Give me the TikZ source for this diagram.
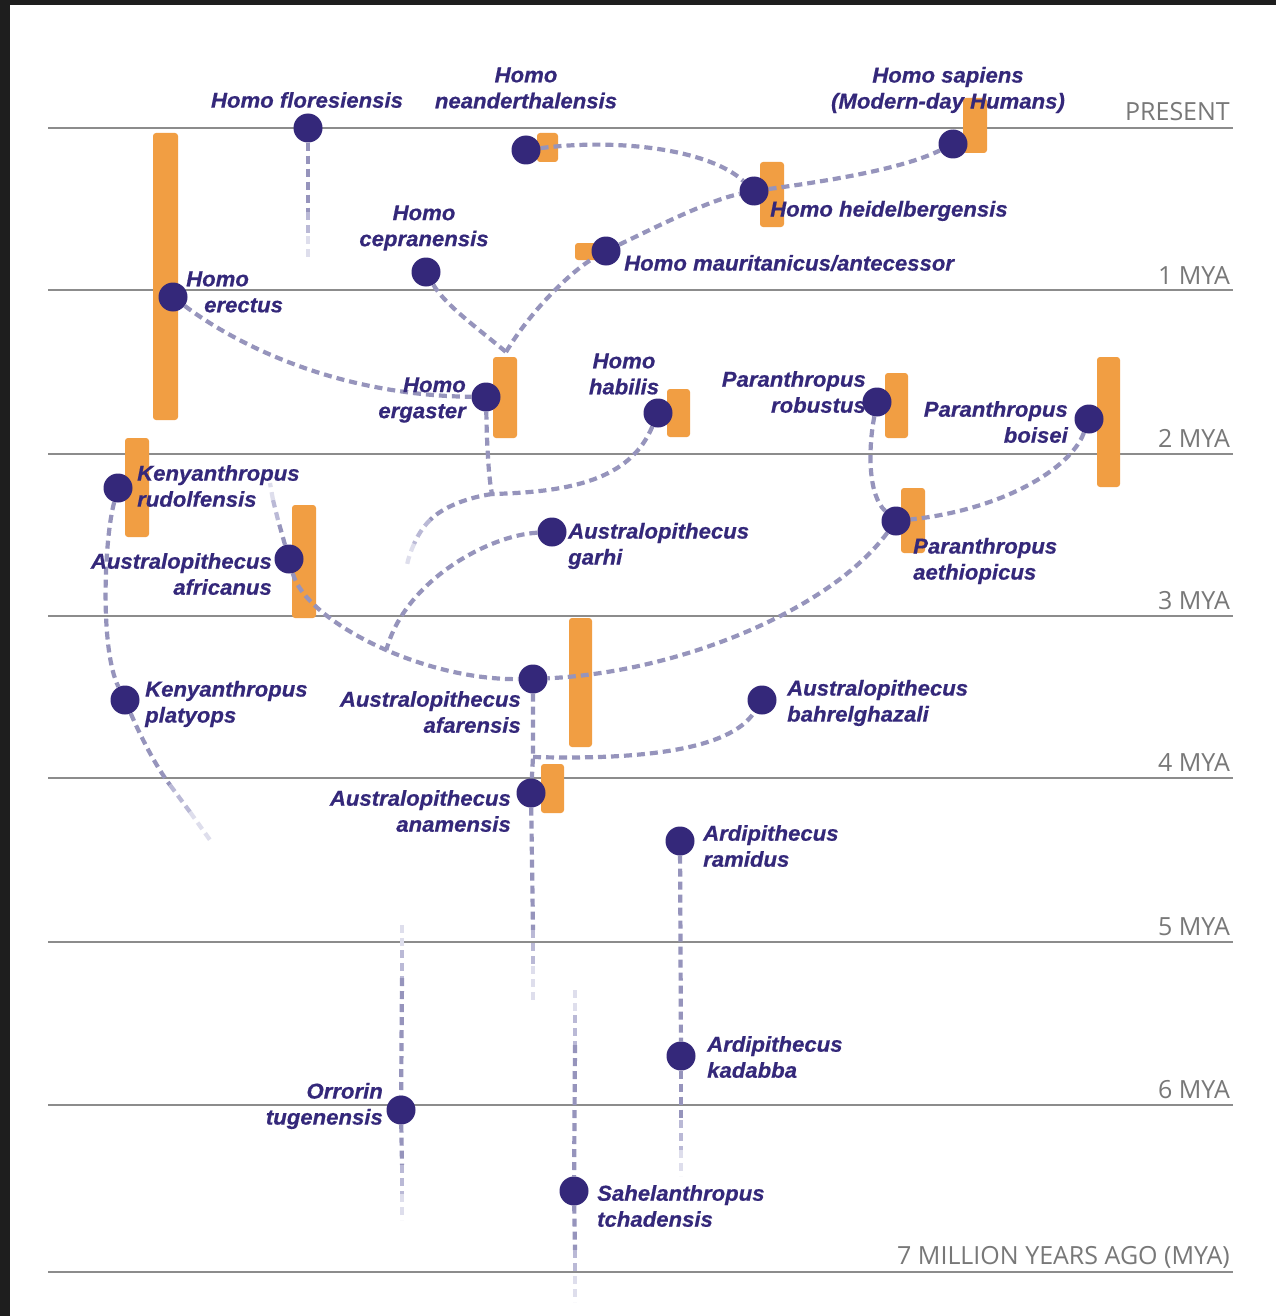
\documentclass[tikz,border=0pt]{standalone}
\usepackage{fontspec}
\setmainfont{Liberation Sans}
\newfontfamily\spfont{Liberation Sans}[FakeStretch=1.03,FakeBold=0.6]
\newfontfamily\axfont{Open Sans}
\definecolor{ink}{RGB}{52,40,122}
\definecolor{ochre}{RGB}{241,158,67}
\definecolor{lineclr}{RGB}{150,148,188}
\definecolor{fadeA}{RGB}{186,185,214}
\definecolor{fadeB}{RGB}{222,222,236}
\definecolor{rulegray}{RGB}{140,140,140}
\definecolor{axtext}{RGB}{120,120,120}
\definecolor{framegray}{RGB}{30,30,30}
\pgfdeclarelayer{back}\pgfdeclarelayer{bars}\pgfdeclarelayer{links}
\pgfsetlayers{back,bars,links,main}
\begin{document}
\begin{tikzpicture}[x=1pt,y=-1pt,
  dot/.style={circle,fill=ink,minimum size=29pt,inner sep=0pt},
  sp/.style={text=ink,inner sep=0pt,font=\spfont\bfseries\itshape\fontsize{21.5}{26}\selectfont},
  ax/.style={text=axtext,inner sep=0pt,anchor=base east,font=\axfont\fontsize{25}{30}\selectfont},
  rule/.style={draw=rulegray,line width=1.4pt},
  bar/.style={fill=ochre,rounded corners=3pt},
  link/.style={draw=lineclr,line width=4.2pt,dash pattern=on 8pt off 5pt},
  linkA/.style={link,draw=fadeA},
  linkB/.style={link,draw=fadeB}]
\path[use as bounding box] (0,0) rectangle (1276,1316);

% species dots
\node[dot] (flo) at (308,128) {};
\node[dot] (nea) at (526,150) {};
\node[dot] (sap) at (953,144) {};
\node[dot] (hei) at (754,191) {};
\node[dot] (mau) at (606,251) {};
\node[dot] (cep) at (426,272) {};
\node[dot] (ere) at (173,297) {};
\node[dot] (erg) at (486,397) {};
\node[dot] (hab) at (658,413) {};
\node[dot] (rob) at (877,402) {};
\node[dot] (boi) at (1089,419) {};
\node[dot] (aet) at (896,521) {};
\node[dot] (rud) at (118,488) {};
\node[dot] (afr) at (289,559) {};
\node[dot] (gar) at (552,532) {};
\node[dot] (afa) at (533,679) {};
\node[dot] (bah) at (762,700) {};
\node[dot] (ana) at (531,793) {};
\node[dot] (ram) at (680,841) {};
\node[dot] (kad) at (681,1056) {};
\node[dot] (orr) at (401,1110) {};
\node[dot] (sah) at (574,1191) {};
\node[dot] (pla) at (125,700) {};

% page, frame and time scale
\begin{pgfonlayer}{back}
\fill[white] (0,0) rectangle (1276,1316);
\fill[framegray] (0,0) rectangle (10,1316);
\fill[framegray] (0,0) rectangle (1276,5);
\foreach \y in {128,290,454,616,778,942,1105,1272}
  \draw[rule] (48,\y) -- (1233,\y);
\end{pgfonlayer}

% fossil-range bars
\begin{pgfonlayer}{bars}
\fill[bar] (153,133) rectangle (178,420);
\fill[bar] (537,133) rectangle (558,162);
\fill[bar] (963,98) rectangle (987,153);
\fill[bar] (760,162) rectangle (784,227);
\fill[bar] (575,243) rectangle (600,260);
\fill[bar] (493,357) rectangle (517,438);
\fill[bar] (667,389) rectangle (690,437);
\fill[bar] (885,373) rectangle (908,438);
\fill[bar] (1097,357) rectangle (1120,487);
\fill[bar] (901,488) rectangle (925,553);
\fill[bar] (125,438) rectangle (149,537);
\fill[bar] (292,505) rectangle (316,618);
\fill[bar] (569,618) rectangle (592,747);
\fill[bar] (541,764) rectangle (564,813);
\end{pgfonlayer}

% lineages
\begin{pgfonlayer}{links}
\coordinate (floA) at (308,212); \coordinate (floB) at (308,236); \coordinate (floC) at (308,258);
\draw[link] (flo) -- (floA);
\draw[linkA] (floA) -- (floB);
\draw[linkB] (floB) -- (floC);

\draw[link] (nea) .. controls (620,138) and (710,150) .. (hei);
\draw[link] (hei) .. controls (820,182) and (900,170) .. (sap);
\draw[link] (mau) .. controls (660,225) and (710,200) .. (hei);
\coordinate (jE) at (506,352);
\draw[link] (jE) .. controls (530,312) and (570,272) .. (mau);
\draw[link] (cep) .. controls (445,305) and (480,330) .. (jE);
\draw[link] (ere) .. controls (230,340) and (330,395) .. (erg);
\coordinate (jH) at (492,494);
\draw[link] (erg) .. controls (487,450) and (489,480) .. (jH);
\draw[link] (hab) .. controls (630,480) and (570,492) .. (jH);
\coordinate (jHa) at (430,520); \coordinate (jHb) at (414,544); \coordinate (jHc) at (407,566);
\draw[link] (jH) .. controls (465,498) and (442,508) .. (jHa);
\draw[linkA] (jHa) .. controls (422,528) and (417,537) .. (jHb);
\draw[linkB] (jHb) .. controls (411,551) and (408,558) .. (jHc);

\draw[link] (rob) .. controls (868,450) and (868,495) .. (aet);
\draw[link] (boi) .. controls (1070,470) and (1000,510) .. (aet);
\draw[link] (aet) .. controls (830,610) and (680,672) .. (afa);

\draw[link] (afr) .. controls (305,620) and (420,680) .. (afa) coordinate[pos=0.55] (jG);
\draw[link] (gar) .. controls (490,535) and (405,580) .. (jG);
\coordinate (afrA) at (278,520); \coordinate (afrB) at (273,500); \coordinate (afrC) at (270,483);
\draw[link] (afr) -- (afrA);
\draw[linkA] (afrA) -- (afrB);
\draw[linkB] (afrB) -- (afrC);

\coordinate (jB) at (533,757);
\draw[link] (afa) -- (jB) -- (ana);
\draw[link] (jB) .. controls (640,760) and (730,750) .. (bah);
\coordinate (anaA) at (533,930); \coordinate (anaB) at (533,966); \coordinate (anaC) at (533,1000);
\draw[link] (ana) -- (anaA);
\draw[linkA] (anaA) -- (anaB);
\draw[linkB] (anaB) -- (anaC);

\draw[link] (ram) -- (kad);
\coordinate (kadA) at (681,1120); \coordinate (kadB) at (681,1150); \coordinate (kadC) at (681,1176);
\draw[link] (kad) -- (kadA);
\draw[linkA] (kadA) -- (kadB);
\draw[linkB] (kadB) -- (kadC);

\coordinate (orrT) at (402,925); \coordinate (orrU) at (402,950); \coordinate (orrV) at (402,978);
\coordinate (orrA) at (402,1165); \coordinate (orrB) at (402,1194); \coordinate (orrC) at (402,1220);
\draw[linkB] (orrT) -- (orrU);
\draw[linkA] (orrU) -- (orrV);
\draw[link] (orrV) -- (orr) -- (orrA);
\draw[linkA] (orrA) -- (orrB);
\draw[linkB] (orrB) -- (orrC);

\coordinate (sahT) at (575,990); \coordinate (sahU) at (575,1015); \coordinate (sahV) at (575,1045);
\coordinate (sahA) at (575,1250); \coordinate (sahB) at (575,1276); \coordinate (sahC) at (575,1302);
\draw[linkB] (sahT) -- (sahU);
\draw[linkA] (sahU) -- (sahV);
\draw[link] (sahV) -- (sah) -- (sahA);
\draw[linkA] (sahA) -- (sahB);
\draw[linkB] (sahB) -- (sahC);

\draw[link] (rud) .. controls (104,540) and (100,650) .. (pla);
\coordinate (plaA) at (170,785); \coordinate (plaB) at (190,812); \coordinate (plaC) at (210,840);
\draw[link] (pla) .. controls (140,735) and (155,765) .. (plaA);
\draw[linkA] (plaA) -- (plaB);
\draw[linkB] (plaB) -- (plaC);
\end{pgfonlayer}

% species names
\node[sp] (floL) at (307,100) {Homo floresiensis};
\node[sp,align=center] (neaL) at (526,88) {Homo\\neanderthalensis};
\node[sp,align=center] (sapL) at (948,90) {Homo sapiens\\(Modern-day Humans)};
\node[sp,anchor=west] (heiL) at (770,211) {Homo heidelbergensis};
\node[sp,anchor=west] (mauL) at (624,263) {Homo mauritanicus/antecessor};
\node[sp,align=center] (cepL) at (424,228) {Homo\\cepranensis};
\node[sp,align=left,anchor=west] (ereL) at (186,292) {Homo\\\hspace*{18pt}erectus};
\node[sp,align=right,anchor=east] (ergL) at (466,400) {Homo\\ergaster};
\node[sp,align=center] (habL) at (624,374) {Homo\\habilis};
\node[sp,align=right,anchor=east] (robL) at (866,392) {Paranthropus\\robustus};
\node[sp,align=right,anchor=east] (boiL) at (1068,422) {Paranthropus\\boisei};
\node[sp,align=left,anchor=west] (aetL) at (913,561) {Paranthropus\\aethiopicus};
\node[sp,align=left,anchor=west] (rudL) at (137,486) {Kenyanthropus\\rudolfensis};
\node[sp,align=right,anchor=east] (afrL) at (272,574) {Australopithecus\\africanus};
\node[sp,align=left,anchor=west] (garL) at (568,546) {Australopithecus\\garhi};
\node[sp,align=right,anchor=east] (afaL) at (521,712) {Australopithecus\\afarensis};
\node[sp,align=left,anchor=west] (bahL) at (787,703) {Australopithecus\\bahrelghazali};
\node[sp,align=right,anchor=east] (anaL) at (511,811) {Australopithecus\\anamensis};
\node[sp,align=left,anchor=west] (ramL) at (703,846) {Ardipithecus\\ramidus};
\node[sp,align=left,anchor=west] (kadL) at (707,1057) {Ardipithecus\\kadabba};
\node[sp,align=right,anchor=east] (orrL) at (383,1106) {Orrorin\\tugenensis};
\node[sp,align=left,anchor=west] (sahL) at (597,1206) {Sahelanthropus\\tchadensis};
\node[sp,align=left,anchor=west] (plaL) at (145,704) {Kenyanthropus\\platyops};

% time scale labels
\node[ax] (t0) at (1230,121) {PRESENT};
\node[ax] (t1) at (1230,284) {1 MYA};
\node[ax] (t2) at (1230,447) {2 MYA};
\node[ax] (t3) at (1230,609) {3 MYA};
\node[ax] (t4) at (1230,771) {4 MYA};
\node[ax] (t5) at (1230,935) {5 MYA};
\node[ax] (t6) at (1230,1098) {6 MYA};
\node[ax] (t7) at (1230,1264) {7 MILLION YEARS AGO (MYA)};
\end{tikzpicture}
\end{document}
